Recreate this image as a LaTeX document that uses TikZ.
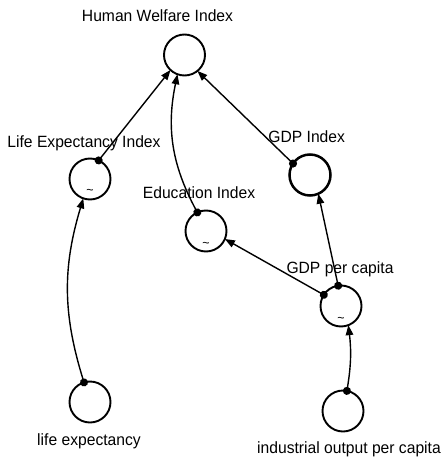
\documentclass[tikz,border=0pt]{standalone}
\usepackage{fontspec}
\setmainfont{Liberation Sans}[FakeStretch=0.96]
\usetikzlibrary{arrows.meta}

\begin{document}
\begin{tikzpicture}[
    x=1pt, y=-1pt,
    font=\fontsize{16.3}{18}\selectfont,
    var/.style={
      draw,
      circle,
      line width=1.9pt,
      minimum size=41pt,
      inner sep=0pt,
      outer sep=0pt
    },
    tag/.style={anchor=base, inner sep=0pt},
    wave/.style={font=\fontsize{13}{13}\selectfont, inner sep=0pt},
    link/.style={
      line width=1.4pt,
      {Circle[length=8pt]}-{Triangle[length=10pt,width=7.5pt]},
      shorten <=-4pt
    }
  ]
    \useasboundingbox (0,0) rectangle (444,460);

    % stocks
    \node[var] (hwi) at (184.5,55) {};
    \node[var] (lei) at (90,179) {};
    \node[var, line width=2.5pt] (gdpi) at (310,175) {};
    \node[var] (edu) at (206,231) {};
    \node[var] (gdppc) at (341,306) {};
    \node[var] (lifeexp) at (90,402) {};
    \node[var] (indout) at (343,411) {};

    % names
    \node[tag] (hwi-l) at (157.5,21.7) {Human Welfare Index};
    \node[tag] (lei-l) at (84,147.7) {Life Expectancy Index};
    \node[tag] (gdpi-l) at (306.7,142.3) {GDP Index};
    \node[tag] (edu-l) at (199,198.3) {Education Index};
    \node[tag] (gdppc-l) at (340,273.3) {GDP per capita};
    \node[tag] (lifeexp-l) at (89,445) {life expectancy};
    \node[tag] (indout-l) at (349,453.3) {industrial output per capita};

    % graph marks
    \node[wave] (lei-w) at ([yshift=-13pt]lei.center) {\textasciitilde};
    \node[wave] (edu-w) at ([yshift=-14pt]edu.center) {\textasciitilde};
    \node[wave] (gdppc-w) at ([yshift=-14pt]gdppc.center) {\textasciitilde};

    % links
    \draw[link] (lei.65) -- (hwi.227);
    \draw[link] (edu.115) to[bend left=20] (hwi.250);
    \draw[link] (gdpi.146) -- (hwi.309);
    \draw[link] (gdppc.98) -- (gdpi.294);
    \draw[link] (gdppc.147) -- (edu.337);
    \draw[link] (lifeexp.107) to[bend left=17] (lei.251);
    \draw[link] (indout.79) to[bend right=8] (gdppc.291);
  \end{tikzpicture}
\end{document}
